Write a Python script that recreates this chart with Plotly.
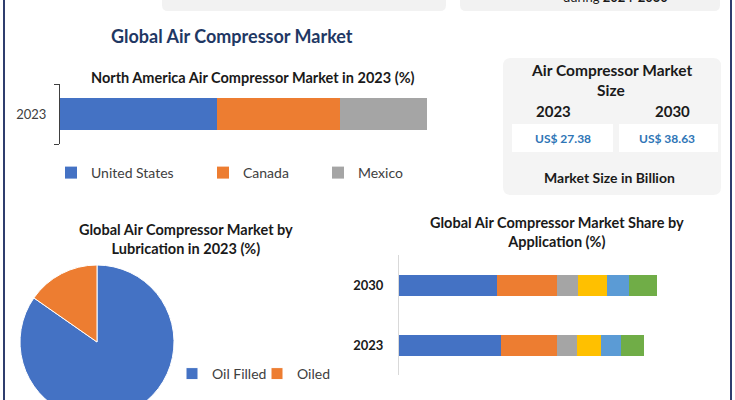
import plotly.graph_objects as go

# ---------------- data ----------------
na_countries = ["United States", "Canada", "Mexico"]
na_share = [42.8, 33.5, 23.7]
na_year = ["2023"]

lub_types = ["Oil Filled", "Oiled"]
lub_share = [84.7, 15.3]

app_years = ["2023", "2030"]
app_names = ["Application 1", "Application 2", "Application 3",
             "Application 4", "Application 5", "Application 6"]
app_values_2023 = [39.5, 21.7, 7.7, 9.3, 7.7, 8.9]
app_values_2030 = [37.9, 23.2, 8.1, 11.2, 8.5, 10.8]

market_years = ["2023", "2030"]
market_values = [27.38, 38.63]

# ---------------- styling ----------------
W, H = 735, 420
FONT = "Lato, 'Open Sans', sans-serif"
na_colors = ["#4472c4", "#ed7d31", "#a5a5a5"]
lub_colors = ["#4472c4", "#ed7d31"]
app_colors = ["#4472c4", "#ed7d31", "#a5a5a5", "#ffc000", "#5b9bd5", "#70ad47"]


def X(px):
    return px / W


def Y(py):
    return 1 - py / H


def rrect(x0, y0, x1, y1, r):
    return (f"M {X(x0 + r)},{Y(y0)} L {X(x1 - r)},{Y(y0)} Q {X(x1)},{Y(y0)} {X(x1)},{Y(y0 + r)} "
            f"L {X(x1)},{Y(y1 - r)} Q {X(x1)},{Y(y1)} {X(x1 - r)},{Y(y1)} "
            f"L {X(x0 + r)},{Y(y1)} Q {X(x0)},{Y(y1)} {X(x0)},{Y(y1 - r)} "
            f"L {X(x0)},{Y(y0 + r)} Q {X(x0)},{Y(y0)} {X(x0 + r)},{Y(y0)} Z")


fig = go.Figure()

# North America stacked bar
na_legends = ["legend", "legend2", "legend3"]
for name, val, col, lg in zip(na_countries, na_share, na_colors, na_legends):
    fig.add_trace(go.Bar(
        y=na_year, x=[val], name=name, orientation="h",
        marker=dict(color=col, line=dict(width=0)), width=0.54,
        xaxis="x", yaxis="y", legend=lg,
    ))

# Application stacked bars
for i, (name, col) in enumerate(zip(app_names, app_colors)):
    fig.add_trace(go.Bar(
        y=app_years, x=[app_values_2023[i], app_values_2030[i]], name=name,
        orientation="h", marker=dict(color=col, line=dict(width=0)), width=0.35,
        xaxis="x2", yaxis="y2", showlegend=False,
    ))

# Lubrication pie
fig.add_trace(go.Pie(
    labels=lub_types, values=lub_share, sort=False, direction="clockwise",
    marker=dict(colors=lub_colors, line=dict(color="white", width=1)),
    textinfo="none", domain=dict(x=[X(20), X(174)], y=[Y(419), Y(265)]),
    legend="legend4",
))

shapes = [
    dict(type="line", xref="paper", yref="paper", x0=X(4), x1=X(4), y0=0, y1=1,
         line=dict(color="#2f3d6e", width=2)),
    dict(type="line", xref="paper", yref="paper", x0=X(731), x1=X(731), y0=0, y1=1,
         line=dict(color="#2f3d6e", width=2)),
    dict(type="path", xref="paper", yref="paper", path=rrect(162, -12, 446, 11, 6),
         fillcolor="#f2f2f2", line=dict(width=0), layer="below"),
    dict(type="path", xref="paper", yref="paper", path=rrect(460, -12, 720, 11, 6),
         fillcolor="#f2f2f2", line=dict(width=0), layer="below"),
    dict(type="path", xref="paper", yref="paper", path=rrect(503, 58, 721, 195, 8),
         fillcolor="#f4f4f4", line=dict(width=0), layer="below"),
    dict(type="rect", xref="paper", yref="paper", x0=X(512), x1=X(613), y0=Y(152), y1=Y(124),
         fillcolor="white", line=dict(width=0), layer="below"),
    dict(type="rect", xref="paper", yref="paper", x0=X(619), x1=X(718), y0=Y(152), y1=Y(124),
         fillcolor="white", line=dict(width=0), layer="below"),
]


def ann(text, x, y, size, color="#1a1a1a", bold=True):
    return dict(text=f"<b>{text}</b>" if bold else text, x=X(x), y=Y(y),
                xref="paper", yref="paper", xanchor="center", yanchor="middle",
                showarrow=False, font=dict(family=FONT, size=size, color=color))


annotations = [
    ann("during <b>2024-2030</b>", 615, -3, 13, bold=False),
    ann("Global Air Compressor Market", 232, 36, 18, color="#1f3864"),
    ann("North America Air Compressor Market in 2023 (%)", 253, 77, 14.5),
    ann("Air Compressor Market", 611, 70, 15.5),
    ann("Size", 611, 90, 15.5),
    ann(market_years[0], 553, 111, 15),
    ann(market_years[1], 672, 111, 15),
    ann(f"US$ {market_values[0]:.2f}", 563, 139, 12, color="#2e75b6"),
    ann(f"US$ {market_values[1]:.2f}", 667, 139, 12, color="#2e75b6"),
    ann("Market Size in Billion", 609, 177, 14),
    ann("Global Air Compressor Market by<br>Lubrication in 2023 (%)", 186, 238.5, 14.5),
    ann("Global Air Compressor Market Share by<br>Application (%)", 557, 232, 14.5),
]

leg_common = dict(orientation="h", yanchor="middle", xanchor="left",
                  bgcolor="rgba(0,0,0,0)", borderwidth=0,
                  font=dict(family=FONT, size=14, color="#404040"))

fig.update_layout(
    width=W, height=H, margin=dict(l=0, r=0, t=0, b=0),
    paper_bgcolor="white", plot_bgcolor="white",
    barmode="stack", font=dict(family=FONT),
    xaxis=dict(domain=[X(60), X(427)], range=[0, 100], visible=False, fixedrange=True),
    yaxis=dict(domain=[Y(144), Y(84)], type="category", range=[-0.5, 0.5],
               showline=True, linecolor="#404040", linewidth=1,
               ticks="outside", tickson="boundaries", ticklen=5, tickcolor="#404040",
               ticklabelstandoff=10, showgrid=False,
               tickfont=dict(family=FONT, size=13, color="#404040")),
    xaxis2=dict(domain=[X(399), X(709)], range=[0, 120], visible=False, anchor="y2"),
    yaxis2=dict(domain=[Y(375), Y(255)], type="category", range=[-0.5, 1.5],
                categoryorder="array", categoryarray=app_years, anchor="x2",
                showline=True, linecolor="#d9d9d9", linewidth=1, ticks="",
                ticklabelstandoff=12, showgrid=False,
                tickfont=dict(family=FONT, size=13, color="#1a1a1a", weight="bold")),
    legend=dict(x=X(51), y=Y(173), **leg_common),
    legend2=dict(x=X(203), y=Y(173), **leg_common),
    legend3=dict(x=X(318), y=Y(173), **leg_common),
    legend4=dict(x=X(172), y=Y(374), entrywidth=40, **leg_common),
    shapes=shapes, annotations=annotations,
)

fig.write_html("out.html", config={"displayModeBar": False},
               post_script="document.body.style.margin='0px';")
